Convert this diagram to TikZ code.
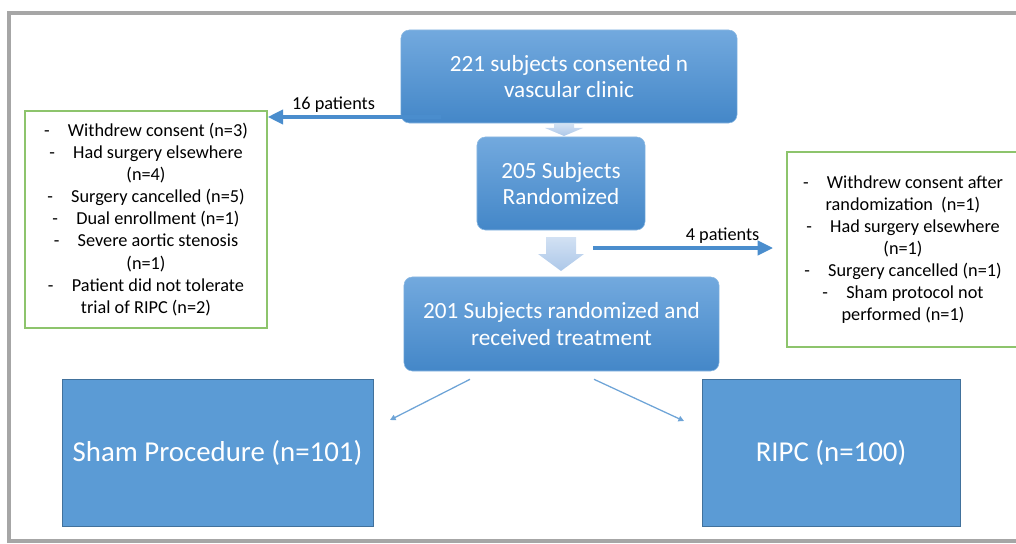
\documentclass[tikz,border=0pt]{standalone}
\usepackage{fontspec}
\setmainfont{Carlito}
\usetikzlibrary{arrows.meta,calc}

\definecolor{boxtop}{HTML}{72A9DE}
\definecolor{boxbot}{HTML}{4487C8}
\definecolor{armblue}{HTML}{5B9BD5}
\definecolor{armedge}{HTML}{41719C}
\definecolor{exclgreen}{HTML}{8DC46C}
\definecolor{lineblue}{HTML}{4A8DCD}
\definecolor{paleblue}{HTML}{ADC8E9}
\definecolor{framegray}{HTML}{A6A6A6}

\tikzset{
	flowbox/.style={rounded corners=6pt, top color=boxtop, bottom color=boxbot,
		draw=armblue!70, text=white, align=center, inner sep=0pt,
		font=\fontsize{16.5}{18.8}\selectfont},
	exclbox/.style={draw=exclgreen, line width=0.9pt, fill=white, align=center,
		inner sep=0pt, font=\fontsize{13}{15.7}\selectfont},
	armbox/.style={fill=armblue, draw=armedge, line width=0.5pt, text=white,
		inner sep=0pt, font=\fontsize{20.5}{24}\selectfont},
	droparrow/.style={draw=lineblue, line width=3pt, -{Triangle[length=11pt,width=10pt]}},
	thinarrow/.style={draw=lineblue!80, line width=0.9pt, -{Triangle[length=4pt,width=4pt]}},
	blockarrow/.style={top color=paleblue!55, bottom color=paleblue, draw=none},
	countlabel/.style={font=\fontsize{13}{15}\selectfont, inner sep=2pt},
}

\begin{document}
\begin{tikzpicture}[x=0.025cm, y=-0.025cm]
\useasboundingbox (0,0) rectangle (1016,544);
%========================================
% Frame
%========================================
\draw[framegray, line width=2.2pt] (1016,13) -- (9,13) -- (9,541) -- (1016,541);

%========================================
% Main column
%========================================
\node[flowbox, minimum width=8.4cm, minimum height=2.325cm] (consent) at (569,76.5)
	{221 subjects consented n\\ vascular clinic};
\node[flowbox, minimum width=4.2cm, minimum height=2.325cm] (rand) at (561,183.5)
	{205 Subjects\\ Randomized};
\node[flowbox, minimum width=7.875cm, minimum height=2.35cm] (treat) at (561.5,324)
	{201 Subjects randomized and\\ received treatment};

% block arrows between the boxes
\shade[blockarrow] (554,124) -- (574,124) -- (574,128) -- (583,128) -- (564,136)
	-- (545,128) -- (554,128) -- cycle;
\shade[blockarrow] (546,237) -- (576,237) -- (576,254) -- (584,254) -- (561,271)
	-- (538,254) -- (546,254) -- cycle;

%========================================
% Exclusions
%========================================
\node[exclbox, minimum width=6.05cm, minimum height=5.425cm] (excl1) at (146,219.5)
	{-\quad Withdrew consent (n=3)\\
	 -\quad Had surgery elsewhere\\ (n=4)\\
	 -\quad Surgery cancelled (n=5)\\
	 -\quad Dual enrollment (n=1)\\
	 -\quad Severe aortic stenosis\\ (n=1)\\
	 -\quad Patient did not tolerate\\ trial of RIPC (n=2)};
\node[exclbox, minimum width=5.8cm, minimum height=4.875cm] (excl2) at (903,249.5)
	{-\quad Withdrew consent after\\ randomization\ \ (n=1)\\
	 -\quad Had surgery elsewhere\\ (n=1)\\
	 -\quad Surgery cancelled (n=1)\\
	 -\quad Sham protocol not\\ performed (n=1)};

\coordinate (out1) at (441,117);
\coordinate (out2) at (593,248);
\draw[droparrow] (out1) -- (out1 -| excl1.east)
	node[countlabel, pos=0.62, above] {16 patients};
\draw[droparrow, shorten >=0.33cm] (out2) -- (out2 -| excl2.west)
	node[countlabel, pos=0.67, above] {4 patients};

%========================================
% Study arms
%========================================
\node[armbox, minimum width=7.775cm, minimum height=3.675cm] (sham) at (217.5,452.5)
	{Sham Procedure (n=101)};
\node[armbox, minimum width=6.45cm, minimum height=3.675cm] (ripc) at (831,452.5)
	{RIPC (n=100)};

\coordinate (shamtip) at (390,420);
\coordinate (ripctip) at (684,421);
\draw[thinarrow] ($(treat.south)+(-91.5,8)$) -- (shamtip);
\draw[thinarrow] ($(treat.south)+(32.5,8)$) -- (ripctip);

\end{tikzpicture}
\end{document}
